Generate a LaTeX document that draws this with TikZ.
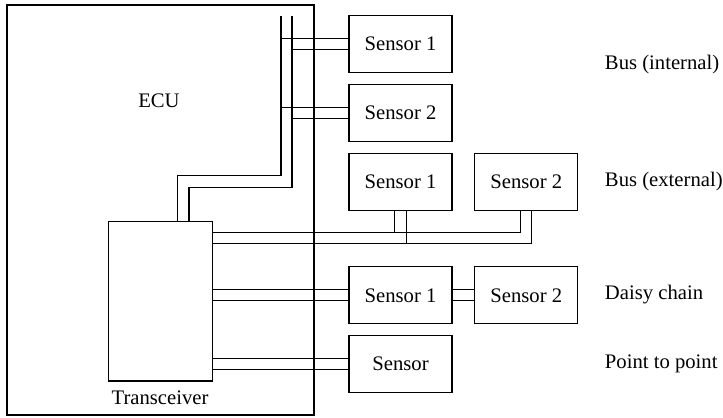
\documentclass[tikz,border=0pt]{standalone}
\usepackage{fontspec}
\setmainfont{Liberation Serif}
\usepackage{tikz}
\usetikzlibrary{positioning}

\begin{document}
\begin{tikzpicture}[x=0.75pt, y=-0.75pt, line width=0.8pt, every node/.style={font=\fontsize{15.5}{18}\selectfont},
  sensor/.style={draw, inner sep=0pt, minimum width=77.25pt, minimum height=42.75pt}]
\def\w{4.2pt}
\useasboundingbox (0,0) rectangle (723,417);
% boxes
\node[draw, minimum width=230.25pt, minimum height=307.5pt] (ecu) at (160.5,210) {};
\node (ecutext) at (159,101) {ECU};
\node[draw, minimum width=78pt, minimum height=119.5pt] (trx) at (160.3,301.3) {};
\node (trxtext) at (160,398) {Transceiver};
\node[sensor] (is1) at (400.5,44.2) {Sensor 1};
\node[sensor] (is2) at (400.5,113.2) {Sensor 2};
\node[sensor] (es1) at (400.5,181.7) {Sensor 1};
\node[sensor] (es2) at (526.3,181.7) {Sensor 2};
\node[sensor] (ds1) at (400.5,295.3) {Sensor 1};
\node[sensor] (ds2) at (526.3,295.3) {Sensor 2};
\node[sensor] (pp) at (400.5,364.2) {Sensor};
% labels
\node[anchor=west] (lint) at (600,65) {Bus (internal)};
\node[anchor=west] (lext) at (600,182) {Bus (external)};
\node[anchor=west] (ldc) at (600,295) {Daisy chain};
\node[anchor=west] (lpp) at (600,364) {Point to point};
% internal bus
\coordinate (busA) at (281,16);
\coordinate (busB) at (292,16);
\coordinate (bendA) at (177.3,175.7);
\coordinate (bendB) at (189,187.3);
\draw (busA) |- (bendA) -- (bendA |- trx.north);
\draw (busB) |- (bendB) -- (bendB |- trx.north);
\foreach \s in {is1,is2}{
  \coordinate (\s-a) at ([yshift=\w]\s.west);
  \coordinate (\s-b) at ([yshift=-\w]\s.west);
  \draw (\s-a) -- (\s-a -| busA);
  \draw (\s-b) -- (\s-b -| busB);
}
% external bus
\coordinate (extA) at ([yshift=-8.7pt]trx.north east);
\coordinate (extB) at ([yshift=-17pt]trx.north east);
\coordinate (es2-a) at ([xshift=-\w]es2.south);
\coordinate (es2-b) at ([xshift=\w]es2.south);
\coordinate (es1-a) at ([xshift=-\w]es1.south);
\coordinate (es1-b) at ([xshift=\w]es1.south);
\draw (extA) -| (es2-a);
\draw (extB) -| (es2-b);
\draw (es1-a) -- (es1-a |- extA);
\draw (es1-b) -- (es1-b |- extB);
% daisy chain and point to point
\foreach \s/\t in {ds1/trx,ds2/ds1,pp/trx}{
  \coordinate (\s-a) at ([yshift=\w]\s.west);
  \coordinate (\s-b) at ([yshift=-\w]\s.west);
  \draw (\s-a) -- (\s-a -| \t.east);
  \draw (\s-b) -- (\s-b -| \t.east);
}
\end{tikzpicture}
\end{document}
